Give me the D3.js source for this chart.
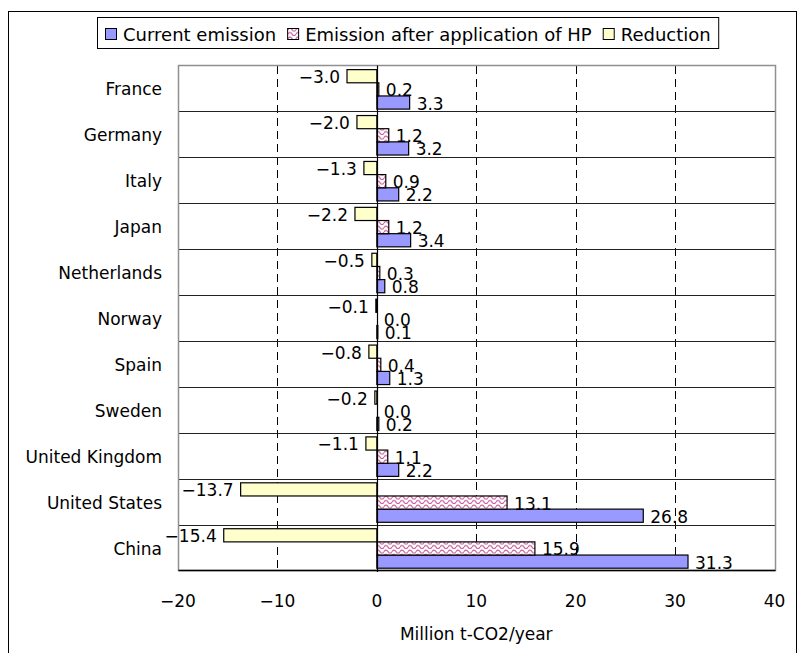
<!DOCTYPE html>
<html><head><meta charset="utf-8">
<script src="https://cdn.jsdelivr.net/npm/d3@7"></script>
<style>
body{margin:0;background:#fff}
svg{display:block}
text{font-family:"DejaVu Sans",sans-serif;fill:#000}
</style>
</head><body>
<svg id="c" width="798" height="653"></svg>
<script>
const categories = ["France","Germany","Italy","Japan","Netherlands","Norway","Spain","Sweden","United Kingdom","United States","China"];
const currentEmission = [3.3,3.2,2.2,3.4,0.8,0.1,1.3,0.2,2.2,26.8,31.3];
const emissionAfterHP = [0.2,1.2,0.9,1.2,0.3,0.0,0.4,0.0,1.1,13.1,15.9];
const reduction = [-3.0,-2.0,-1.3,-2.2,-0.5,-0.1,-0.8,-0.2,-1.1,-13.7,-15.4];
const seriesNames = ["Current emission","Emission after application of HP","Reduction"];
const xTicks = [-20,-10,0,10,20,30,40];
const axisTitle = "Million t-CO2/year";

const series = [
  {name: seriesNames[0], values: currentEmission, fill: "#9999ff"},
  {name: seriesNames[1], values: emissionAfterHP, fill: "url(#wave)"},
  {name: seriesNames[2], values: reduction, fill: "#ffffcc"}
];

const svg = d3.select("#c");
const defs = svg.append("defs");
const pat = defs.append("pattern").attr("id","wave").attr("patternUnits","userSpaceOnUse")
  .attr("width",8).attr("height",4.5);
pat.append("rect").attr("width",8).attr("height",4.5).attr("fill","#fff");
pat.append("path").attr("d","M0,2.6 C1.3,0.4 2.7,0.4 4,2.6 S6.7,4.8 8,2.6")
  .attr("fill","none").attr("stroke","#c8589a").attr("stroke-width",1.1);

// outer frame
svg.append("rect").attr("x",8.5).attr("y",11.5).attr("width",788).attr("height",700)
  .attr("fill","#fff").attr("stroke","#000").attr("stroke-width",1);

const x = d3.scaleLinear().domain([xTicks[0], xTicks[xTicks.length-1]]).range([178, 774.5]);
const y = d3.scaleBand().domain(categories).range([65.5, 570.5]).padding(0);
const inner = d3.scaleBand().domain([2,1,0]).range([y.bandwidth()*0.09, y.bandwidth()*0.95]).padding(0);
const px = v => Math.round(x(v)) + 0.5;
const fmt = d3.format(".1f");

const plot = svg.append("g");
plot.append("rect").attr("x",px(-20)).attr("y",65.5).attr("width",px(40)-px(-20)).attr("height",505)
  .attr("fill","#fff");

// vertical dashed gridlines
plot.selectAll("line.vg").data(xTicks.filter(t => t !== 0 && t !== xTicks[0] && t !== xTicks[xTicks.length-1]))
  .join("line").attr("class","vg")
  .attr("x1",d=>px(d)).attr("x2",d=>px(d)).attr("y1",66).attr("y2",570)
  .attr("stroke","#000").attr("stroke-width",1).attr("stroke-dasharray","8,5");

// category separators
plot.selectAll("line.hg").data(categories.slice(1))
  .join("line").attr("class","hg")
  .attr("x1",px(-20)).attr("x2",px(40))
  .attr("y1",d=>Math.round(y(d))+0.5).attr("y2",d=>Math.round(y(d))+0.5)
  .attr("stroke","#222").attr("stroke-width",1.2);

// plot border
plot.append("rect").attr("x",px(-20)).attr("y",65.5).attr("width",px(40)-px(-20)).attr("height",505)
  .attr("fill","none").attr("stroke","#909090").attr("stroke-width",1.5);
plot.append("line").attr("x1",px(-20)).attr("x2",px(40)).attr("y1",570.5).attr("y2",570.5)
  .attr("stroke","#000").attr("stroke-width",1.5);

// bars
series.forEach((s, si) => {
  plot.append("g").selectAll("rect").data(categories.map((c,i)=>({c, v:s.values[i]})))
    .join("rect")
    .attr("x", d => Math.min(x(0), x(d.v)))
    .attr("y", d => y(d.c) + inner(si))
    .attr("width", d => Math.abs(x(d.v) - x(0)))
    .attr("height", inner.bandwidth())
    .attr("fill", s.fill).attr("stroke","#000").attr("stroke-width",1.2);
});

// zero axis line
plot.append("line").attr("x1",px(0)).attr("x2",px(0)).attr("y1",65.5).attr("y2",572)
  .attr("stroke","#000").attr("stroke-width",1.2);

// data labels
series.forEach((s, si) => {
  plot.append("g").selectAll("text").data(categories.map((c,i)=>({c, v:s.values[i]})))
    .join("text")
    .attr("x", d => d.v >= 0 ? x(d.v) + 7 : x(d.v) - 7)
    .attr("y", d => y(d.c) + inner(si) + inner.bandwidth()/2 + 7)
    .attr("text-anchor", d => d.v >= 0 ? "start" : "end")
    .attr("font-size", 17)
    .text(d => fmt(d.v));
});

// category labels
svg.append("g").selectAll("text").data(categories).join("text")
  .attr("x", 162).attr("y", d => y(d) + y.bandwidth()/2 + 7)
  .attr("text-anchor","end").attr("font-size",17).text(d=>d);

// x tick labels
svg.append("g").selectAll("text").data(xTicks).join("text")
  .attr("x", d => x(d)).attr("y", 607)
  .attr("text-anchor","middle").attr("font-size",17).text(d => d3.format("d")(d));

// axis title
svg.append("text").attr("x", x(10)).attr("y", 640).attr("text-anchor","middle")
  .attr("font-size",17).text(axisTitle);

// legend
const lg = svg.append("g");
const lbox = lg.append("rect").attr("y",17.5).attr("height",31).attr("fill","#fff")
  .attr("stroke","#000").attr("stroke-width",1);
let cx = 105;
series.forEach(s => {
  lg.append("rect").attr("x",cx+0.5).attr("y",28.5).attr("width",11).attr("height",11)
    .attr("fill",s.fill).attr("stroke","#000").attr("stroke-width",1);
  const t = lg.append("text").attr("x",cx+18).attr("y",40.5).attr("font-size",18).text(s.name);
  cx = cx + 18 + t.node().getComputedTextLength() + 11;
});
lbox.attr("x",97.5).attr("width", cx - 11 + 8 - 97.5);
</script>
</body></html>
